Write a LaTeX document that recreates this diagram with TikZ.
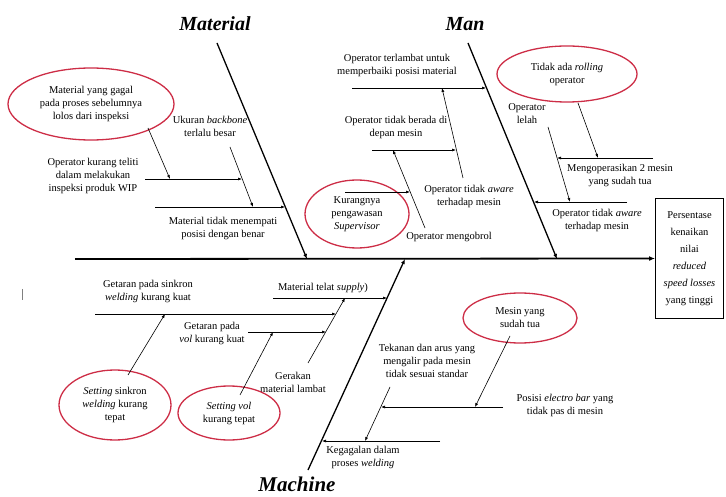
\documentclass[tikz,border=0pt]{standalone}
\usepackage{fontspec}
\setmainfont{Liberation Serif}
\usetikzlibrary{arrows.meta,shapes.geometric}
\definecolor{ovalred}{RGB}{205,45,70}
\begin{document}
\begin{tikzpicture}[x=1pt,y=-1pt,
  txt/.style={align=center,font=\fontsize{10.5}{13}\selectfont,inner sep=0pt},
  cat/.style={font=\fontsize{20}{24}\selectfont\bfseries\itshape,inner sep=0pt},
  bone/.style={line width=1.3pt,-{Latex[length=5pt,width=4pt]}},
  subb/.style={line width=0.6pt,-{Latex[length=4pt,width=3pt]}},
  oval/.style={draw=ovalred,line width=1.3pt,ellipse,align=center,inner sep=0pt,
    font=\fontsize{10.5}{13}\selectfont}
]
\useasboundingbox (0,0) rectangle (726,497);

% effect box and spine
\node[draw,line width=1pt,minimum width=68pt,minimum height=120pt,anchor=north west,
  align=center,font=\fontsize{10.5}{17}\selectfont,inner sep=0pt] (box) at (655,198)
  {Persentase\\kenaikan\\nilai\\\textit{reduced}\\\textit{speed losses}\\yang tinggi};
\coordinate (sp) at (75,259);
\draw[line width=1.8pt,-{Latex[length=6pt,width=5pt]}] (sp) -- (box.west);

% category bones
\coordinate (matT) at (217,43); \coordinate (matB) at (307,259);
\coordinate (manT) at (468,43); \coordinate (manB) at (557,259);
\coordinate (macB) at (308,470); \coordinate (macT) at (405,259);
\draw[bone] (matT) -- (matB);
\draw[bone] (manT) -- (manB);
\draw[bone] (macB) -- (macT);
\node[cat] (matL) at (215,24) {Material};
\node[cat] (manL) at (465,24) {Man};
\node[cat,font=\fontsize{21}{25}\selectfont\bfseries\itshape] (macL) at (297,484) {Machine};

% ---------- Material ----------
\node[oval,minimum width=166pt,minimum height=72pt] (e1) at (91,104)
  {Material yang gagal\\pada proses sebelumnya\\lolos dari inspeksi};
\node[txt] (t1) at (93,176) {Operator kurang teliti\\dalam melakukan\\inspeksi produk WIP};
\node[txt] (t2) at (210,126) {Ukuran \textit{backbone}\\terlalu besar};
\node[txt] (t3) at (223,228) {Material tidak menempati\\posisi dengan benar};
\coordinate (a1s) at (145,179); \coordinate (a1e) at (242,179);
\coordinate (a2s) at (155,207); \coordinate (a2e) at (285,207);
\coordinate (u1s) at (230,147); \coordinate (u1e) at (253,207);
\coordinate (e1s) at (148,128); \coordinate (e1e) at (170,179);
\draw[subb] (a1s) -- (a1e);
\draw[subb] (a2s) -- (a2e);
\draw[subb] (u1s) -- (u1e);
\draw[subb] (e1s) -- (e1e);

% ---------- Man ----------
\node[txt] (t4) at (397,65) {Operator terlambat untuk\\memperbaiki posisi material};
\node[txt] (t5) at (396,127) {Operator tidak berada di\\depan mesin};
\node[txt] (t6) at (469,196) {Operator tidak \textit{aware}\\terhadap mesin};
\node[txt] (t7) at (449,237) {Operator mengobrol};
\node[oval,minimum width=104pt,minimum height=68pt] (e2) at (357,214)
  {Kurangnya\\pengawasan\\\textit{Supervisor}};
\node[oval,minimum width=140pt,minimum height=56pt] (e3) at (567,74)
  {Tidak ada \textit{rolling}\\operator};
\node[txt] (t8) at (527,114) {Operator\\lelah};
\node[txt] (t9) at (620,175) {Mengoperasikan 2 mesin\\yang sudah tua};
\node[txt] (t10) at (597,220) {Operator tidak \textit{aware}\\terhadap mesin};
\coordinate (m1s) at (352,88); \coordinate (m1e) at (486,88);
\coordinate (aws) at (463,178); \coordinate (awe) at (442,88);
\coordinate (m2s) at (372,150); \coordinate (m2e) at (456,150);
\coordinate (mgs) at (425,228); \coordinate (mge) at (393,150);
\coordinate (m3s) at (345,192); \coordinate (m3e) at (410,192);
\coordinate (e3s) at (578,103); \coordinate (e3e) at (598,158);
\coordinate (m4s) at (653,158); \coordinate (m4e) at (557,158);
\coordinate (les) at (548,127); \coordinate (lee) at (570,202);
\coordinate (m5s) at (627,202); \coordinate (m5e) at (534,202);
\draw[subb] (m1s) -- (m1e);
\draw[subb] (aws) -- (awe);
\draw[subb] (m2s) -- (m2e);
\draw[subb] (mgs) -- (mge);
\draw[subb] (m3s) -- (m3e);
\draw[subb] (e3s) -- (e3e);
\draw[subb] (m4s) -- (m4e);
\draw[subb] (les) -- (lee);
\draw[subb] (m5s) -- (m5e);

% ---------- Machine ----------
\node[txt] (t11) at (323,288) {Material telat \textit{supply})};
\node[txt] (t12) at (148,291) {Getaran pada sinkron\\\textit{welding} kurang kuat};
\node[txt] (t13) at (212,333) {Getaran pada\\\textit{vol} kurang kuat};
\node[txt] (t14) at (293,382) {Gerakan\\material lambat};
\node[oval,minimum width=112pt,minimum height=70pt] (e4) at (115,405)
  {\textit{Setting} sinkron\\\textit{welding} kurang\\tepat};
\node[oval,minimum width=102pt,minimum height=54pt] (e5) at (229,413)
  {\textit{Setting vol}\\kurang tepat};
\node[oval,minimum width=114pt,minimum height=50pt] (e6) at (520,318)
  {Mesin yang\\sudah tua};
\node[txt] (t15) at (427,361) {Tekanan dan arus yang\\mengalir pada mesin\\tidak sesuai standar};
\node[txt] (t16) at (565,405) {Posisi \textit{electro bar} yang\\tidak pas di mesin};
\node[txt] (t17) at (363,457) {Kegagalan dalam\\proses \textit{welding}};
\coordinate (k1s) at (273,298); \coordinate (k1e) at (387,298);
\coordinate (gks) at (308,363); \coordinate (gke) at (345,298);
\coordinate (k2s) at (95,314); \coordinate (k2e) at (336,314);
\coordinate (k3s) at (248,332); \coordinate (k3e) at (326,332);
\coordinate (sks) at (128,375); \coordinate (ske) at (165,314);
\coordinate (svs) at (240,395); \coordinate (sve) at (273,332);
\coordinate (e6s) at (510,336); \coordinate (e6e) at (475,407);
\coordinate (k4s) at (503,407); \coordinate (k4e) at (381,407);
\coordinate (tks) at (390,387); \coordinate (tke) at (365,441);
\coordinate (k5s) at (440,441); \coordinate (k5e) at (322,441);
\draw[subb] (k1s) -- (k1e);
\draw[subb] (gks) -- (gke);
\draw[subb] (k2s) -- (k2e);
\draw[subb] (k3s) -- (k3e);
\draw[subb] (sks) -- (ske);
\draw[subb] (svs) -- (sve);
\draw[subb] (e6s) -- (e6e);
\draw[subb] (k4s) -- (k4e);
\draw[subb] (tks) -- (tke);
\draw[subb] (k5s) -- (k5e);

% stray mark
\coordinate (st1) at (22,289); \coordinate (st2) at (22,300);
\draw[gray,line width=0.6pt] (st1) -- (st2);
\end{tikzpicture}
\end{document}
